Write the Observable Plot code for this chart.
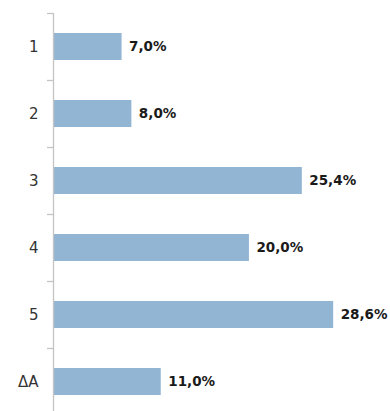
<!DOCTYPE html>
<html>
<head>
<meta charset="utf-8">
<script src="https://cdn.jsdelivr.net/npm/d3@7"></script>
<script src="https://cdn.jsdelivr.net/npm/@observablehq/plot@0.6"></script>
<style>
  html, body { margin: 0; padding: 0; background: #fff; }
  #chart svg { display: block; }
</style>
</head>
<body>
<div id="chart"></div>
<script>
const categories = ["1", "2", "3", "4", "5", "ΔA"];
const values = [7.0, 8.0, 25.4, 20.0, 28.6, 11.0];

const data = categories.map((c, i) => ({category: c, value: values[i]}));
const fmt = v => v.toFixed(1).replace(".", ",") + "%";

const yRange = [13, 415];
const pInner = 0.6, pOuter = 0.3;
const step = (yRange[1] - yRange[0]) / (categories.length - pInner + 2 * pOuter);

const chart = Plot.plot({
  width: 390,
  height: 411,
  marginLeft: 53,
  marginRight: 0,
  marginTop: 13,
  marginBottom: 0,
  style: {fontFamily: "DejaVu Sans, sans-serif", background: "#fff"},
  x: {domain: [0, 34.4], axis: null},
  y: {domain: categories, range: yRange, paddingInner: pInner, paddingOuter: pOuter, axis: null},
  marks: [
    Plot.barX(data, {x: "value", y: "category", fill: "#93b5d4"}),
    Plot.text(data, {
      x: "value", y: "category", text: d => fmt(d.value),
      textAnchor: "start", dx: 7, fontWeight: "bold", fontSize: 13.5, fill: "#1a1a1a"
    }),
    Plot.text(data, {
      x: 0, y: "category", text: "category",
      textAnchor: "end", dx: -15, fontSize: 15, fill: "#333"
    }),
    Plot.ruleX([0], {stroke: "#c4c4c4", strokeWidth: 1.3}),
    Plot.tickY(categories, {
      y: d => d, dy: -step / 2, stroke: "#c4c4c4", strokeWidth: 1.3,
      render: (index, scales, values, dimensions, context, next) => {
        const g = next(index, scales, values, dimensions, context);
        d3.select(g).selectAll("line").attr("x1", 47).attr("x2", 53);
        return g;
      }
    })
  ]
});
document.getElementById("chart").appendChild(chart);
</script>
</body>
</html>
